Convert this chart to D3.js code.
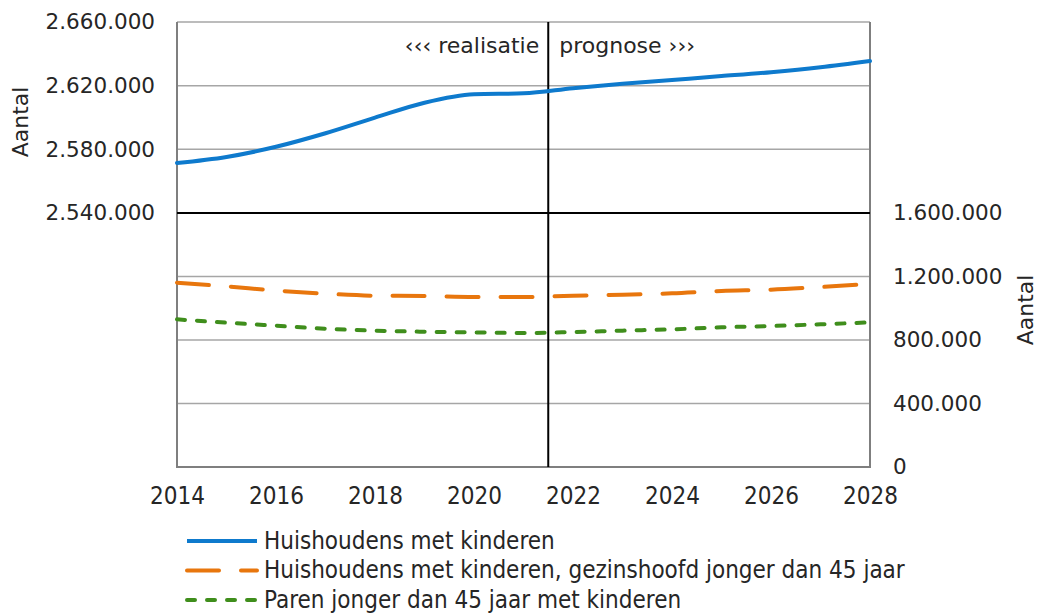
<!DOCTYPE html>
<html>
<head>
<meta charset="utf-8">
<title>Huishoudens met kinderen</title>
<script src="https://d3js.org/d3.v7.min.js"></script>
<style>
body {
	margin: 0;
	background-color: white;
}
svg {
	display: block;
}
.tick text, .lbl {
	font-family: "DejaVu Sans", Verdana, sans-serif;
	font-size: 21.5px;
	fill: #262626;
}
.lbl {
	font-size: 22px;
}
.xas .tick text, .legend text {
	font-family: "DejaVu Sans Condensed", "DejaVu Sans", sans-serif;
	font-size: 24px;
	fill: #262626;
}
.grid {
	stroke: #a6a6a6;
	stroke-width: 1.5;
}
.line {
	fill: none;
	stroke-width: 4;
	stroke-linecap: round;
}
</style>
</head>
<body>
<svg id="chart" width="1039" height="614"></svg>
<script>
/* globals d3 */
(function() {
"use strict";

const jaren = [2014, 2015, 2016, 2017, 2018, 2019, 2020, 2021,
	2022, 2023, 2024, 2025, 2026, 2027, 2028];
// linker as (bovenste paneel)
const huishoudensMetKinderen = [2571400, 2575200, 2581600, 2590100, 2599900,
	2609300, 2614600, 2615200, 2618400, 2621200, 2623600, 2626000, 2628500,
	2631600, 2635500];
// rechter as (onderste paneel)
const gezinshoofdOnder45 = [1161000, 1138000, 1111000, 1092000, 1079000,
	1077000, 1071000, 1071000, 1079000, 1085000, 1094000, 1109000, 1117000,
	1134000, 1153000];
const parenOnder45 = [930000, 909000, 890000, 871000, 859000, 852000, 848000,
	844000, 850000, 859000, 867000, 880000, 888000, 899000, 911000];

const seriesNamen = [
	"Huishoudens met kinderen",
	"Huishoudens met kinderen, gezinshoofd jonger dan 45 jaar",
	"Paren jonger dan 45 jaar met kinderen",
];
const linksTicks = [2540000, 2580000, 2620000, 2660000];
const rechtsTicks = [0, 400000, 800000, 1200000, 1600000];
const xTicks = [2014, 2016, 2018, 2020, 2022, 2024, 2026, 2028];
const grensJaar = 2021.5;

const nl = d3.formatLocale({decimal: ",", thousands: ".", grouping: [3], currency: ["€", ""]});
const fmt = nl.format(",d");

function main()
{
	const svg = d3.select("#chart");
	const left = 177, right = 870, top = 22, bottom = 467, split = 213;

	const x = d3.scaleLinear([2014, 2028], [left, right]);
	const yTop = d3.scaleLinear([2540000, 2660000], [split, top]);
	const yBot = d3.scaleLinear([0, 1600000], [bottom, split]);

	// rasterlijnen
	svg.append("g").selectAll("line")
		.data(linksTicks.filter(d => d > 2540000))
		.join("line")
		.attr("class", "grid")
		.attr("x1", left).attr("x2", right)
		.attr("y1", d => yTop(d)).attr("y2", d => yTop(d));
	svg.append("g").selectAll("line")
		.data(rechtsTicks.filter(d => d > 0 && d < 1600000))
		.join("line")
		.attr("class", "grid")
		.attr("x1", left).attr("x2", right)
		.attr("y1", d => yBot(d)).attr("y2", d => yBot(d));

	// assen
	const yLeft = d3.axisLeft(yTop).tickValues(linksTicks).tickFormat(fmt)
		.tickSize(0).tickPadding(22);
	svg.append("g")
		.attr("transform", "translate(" + left + ",0)")
		.call(yLeft)
		.call(g => g.select(".domain").remove());

	const yRight = d3.axisRight(yBot).tickValues(rechtsTicks).tickFormat(fmt)
		.tickSize(0).tickPadding(23);
	svg.append("g")
		.attr("transform", "translate(" + right + ",0)")
		.call(yRight)
		.call(g => g.select(".domain").remove());

	const xAxis = d3.axisBottom(x).tickValues(xTicks).tickFormat(d3.format("d"))
		.tickSize(0).tickPadding(20);
	svg.append("g")
		.attr("class", "xas")
		.attr("transform", "translate(0," + bottom + ")")
		.call(xAxis)
		.call(g => g.select(".domain").remove());

	// kader
	svg.append("path")
		.attr("d", "M" + left + "," + top + "V" + bottom + "H" + right + "V" + top)
		.attr("fill", "none")
		.attr("stroke", "#7f7f7f")
		.attr("stroke-width", 2);

	// scheiding panelen
	svg.append("line")
		.attr("x1", left).attr("x2", right)
		.attr("y1", split).attr("y2", split)
		.attr("stroke", "black").attr("stroke-width", 2);

	// realisatie / prognose
	svg.append("line")
		.attr("x1", x(grensJaar)).attr("x2", x(grensJaar))
		.attr("y1", top).attr("y2", bottom)
		.attr("stroke", "black").attr("stroke-width", 2);
	svg.append("text").attr("class", "lbl")
		.attr("x", x(grensJaar) - 9).attr("y", 45).attr("dy", "0.35em")
		.attr("text-anchor", "end")
		.text("‹‹‹ realisatie");
	svg.append("text").attr("class", "lbl")
		.attr("x", x(grensJaar) + 11).attr("y", 45).attr("dy", "0.35em")
		.text("prognose ›››");

	// as-titels
	svg.append("text").attr("class", "lbl")
		.attr("transform", "translate(20,122) rotate(-90)")
		.attr("text-anchor", "middle").attr("dy", "0.35em")
		.text("Aantal");
	svg.append("text").attr("class", "lbl")
		.attr("transform", "translate(1025,310) rotate(-90)")
		.attr("text-anchor", "middle").attr("dy", "0.35em")
		.text("Aantal");

	// lijnen
	const series = [
		{values: huishoudensMetKinderen, y: yTop, color: "#0e7acd", dash: null, cap: "butt"},
		{values: gezinshoofdOnder45, y: yBot, color: "#e8760d", dash: "32,22", cap: "round"},
		{values: parenOnder45, y: yBot, color: "#3f8e1c", dash: "8,12", cap: "round"},
	];
	for (const s of series) {
		const line = d3.line()
			.x((d, i) => x(jaren[i]))
			.y(d => s.y(d))
			.curve(d3.curveMonotoneX);
		svg.append("path")
			.attr("class", "line")
			.attr("stroke", s.color)
			.attr("stroke-linecap", s.cap)
			.attr("stroke-dasharray", s.dash)
			.attr("d", line(s.values));
	}

	// legenda
	const legend = svg.append("g").attr("class", "legend")
		.attr("transform", "translate(187,541)");
	const rows = legend.selectAll("g")
		.data(series)
		.join("g")
		.attr("transform", (d, i) => "translate(0," + i * 29.5 + ")");
	rows.append("line")
		.attr("x1", 0).attr("x2", 70)
		.attr("stroke", d => d.color)
		.attr("stroke-width", 4)
		.attr("stroke-linecap", d => d.cap)
		.attr("stroke-dasharray", d => d.dash);
	rows.append("text")
		.attr("x", 77).attr("dy", "0.32em")
		.text((d, i) => seriesNamen[i]);
}
window.addEventListener("DOMContentLoaded", main);
})();
</script>
</body>
</html>
